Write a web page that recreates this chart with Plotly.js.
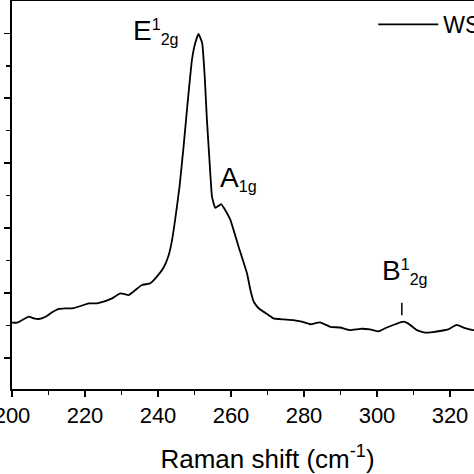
<!DOCTYPE html>
<html>
<head>
<meta charset="utf-8">
<script src="https://cdn.plot.ly/plotly-3.0.1.min.js"></script>
<style>
html, body { margin: 0; padding: 0; width: 474px; height: 474px; overflow: hidden; background: #fff; }
#plot { position: absolute; left: -60px; top: 0; width: 650px; height: 474px; }
</style>
</head>
<body>
<div id="plot"></div>
<script>
// Raman shift (cm^-1)
var ramanShift = [200, 201.4, 202.8, 204.6, 206.0, 207.3, 209.2, 211.0, 212.8, 214.6, 216.5, 218.8, 221.0, 223.3, 225.1, 227.4, 229.7, 232.0, 233.8, 235.6, 237.9, 239.7, 241.5, 242.9, 243.8, 244.7, 245.9, 247.0, 248.1, 249.3, 250.2, 251.1, 252.1, 252.8, 253.4, 254.1, 254.8, 255.7, 257.3, 258.4, 259.8, 262.1, 264.4, 265.3, 266.2, 267.5, 270.3, 271.6, 274.4, 277.1, 279.4, 281.7, 284.4, 287.2, 289.9, 292.6, 295.4, 298.1, 300.4, 302.7, 305.0, 307.2, 308.6, 310.9, 313.2, 315.4, 317.7, 319.5, 321.8, 324.1, 326.4, 328.0];
// Intensity (a.u.)
var intensity = [1.544, 1.544, 1.585, 1.636, 1.611, 1.601, 1.636, 1.704, 1.755, 1.765, 1.765, 1.801, 1.842, 1.842, 1.867, 1.919, 1.996, 1.970, 2.047, 2.124, 2.150, 2.252, 2.39, 2.58, 2.80, 3.13, 3.64, 4.25, 4.92, 5.59, 5.85, 5.99, 5.85, 5.33, 4.67, 4.05, 3.48, 3.31, 3.37, 3.28, 3.13, 2.71, 2.30, 2.05, 1.87, 1.77, 1.66, 1.61, 1.595, 1.585, 1.56, 1.52, 1.55, 1.48, 1.47, 1.43, 1.45, 1.44, 1.41, 1.47, 1.52, 1.56, 1.53, 1.43, 1.39, 1.40, 1.42, 1.44, 1.51, 1.46, 1.43, 1.43];
var xTicks = [200, 220, 240, 260, 280, 300, 320];
var xTickText = ['200', '220', '240', '260', '280', '300', '320'];
var seriesName = 'WS<sub>2</sub>';

// Peak labels: main letter, superscript, subscript
var peakMain = ['E', 'A', 'B'];
var peakSup = ['1', '', '1'];
var peakSub = ['2g', '1g', '2g'];
var peakLabelX = [232.5, 256.4, 300.9];
var peakLabelY = [6.03, 3.76, 2.33];
var markerX = [306.8];
var markerY = [1.66, 1.85];

var font = 'Liberation Sans, Arial, sans-serif';

var trace = {
  x: ramanShift, y: intensity, type: 'scatter', mode: 'lines',
  name: seriesName,
  line: { color: '#000', width: 1.8, shape: 'spline', smoothing: 0.35 }
};

var annotations = peakMain.map(function (m, i) {
  var t = '<span style="font-size:28px">' + m + '</span>' +
    (peakSup[i] ? '<sup>' + peakSup[i] + '</sup>' : '') +
    '<sub>' + peakSub[i] + '</sub>';
  return {
    x: peakLabelX[i], y: peakLabelY[i], xref: 'x', yref: 'y',
    text: t, showarrow: false, xanchor: 'left', yanchor: 'middle',
    font: { family: font, size: 23, color: '#000' }
  };
});

var layout = {
  width: 650, height: 474,
  margin: { l: 71.5, r: 66.9, t: 1, b: 85 },
  paper_bgcolor: '#fff', plot_bgcolor: '#fff',
  showlegend: true,
  legend: {
    x: 0.707, y: 0.995, xanchor: 'left', yanchor: 'top',
    bgcolor: 'rgba(0,0,0,0)', itemwidth: 60,
    font: { family: font, size: 23, color: '#000' }
  },
  xaxis: {
    range: [200, 340],
    tickmode: 'array', tickvals: xTicks, ticktext: xTickText,
    ticks: 'outside', ticklen: 6, tickwidth: 1.5, tickcolor: '#000',
    minor: { dtick: 10, ticks: 'outside', ticklen: 4, tickwidth: 1.5, tickcolor: '#000' },
    showline: true, linecolor: '#000', linewidth: 2, mirror: true,
    showgrid: false, zeroline: false,
    tickfont: { family: font, size: 22, color: '#000' },
    title: { text: 'Raman shift (cm<sup>-1</sup>)', font: { family: font, size: 26, color: '#000' }, standoff: 22 }
  },
  yaxis: {
    range: [0.523, 6.497],
    tickmode: 'linear', tick0: 0, dtick: 1,
    ticks: 'outside', ticklen: 6, tickwidth: 1.5, tickcolor: '#000',
    minor: { dtick: 0.5, ticks: 'outside', ticklen: 4, tickwidth: 1.5, tickcolor: '#000' },
    showticklabels: false,
    showline: true, linecolor: '#000', linewidth: 2, mirror: true,
    showgrid: false, zeroline: false
  },
  annotations: annotations,
  shapes: [{
    type: 'line', xref: 'x', yref: 'y',
    x0: markerX[0], x1: markerX[0], y0: markerY[0], y1: markerY[1],
    line: { color: '#000', width: 1.5 }
  }]
};

Plotly.newPlot('plot', [trace], layout, { staticPlot: true, displayModeBar: false });
</script>
</body>
</html>
